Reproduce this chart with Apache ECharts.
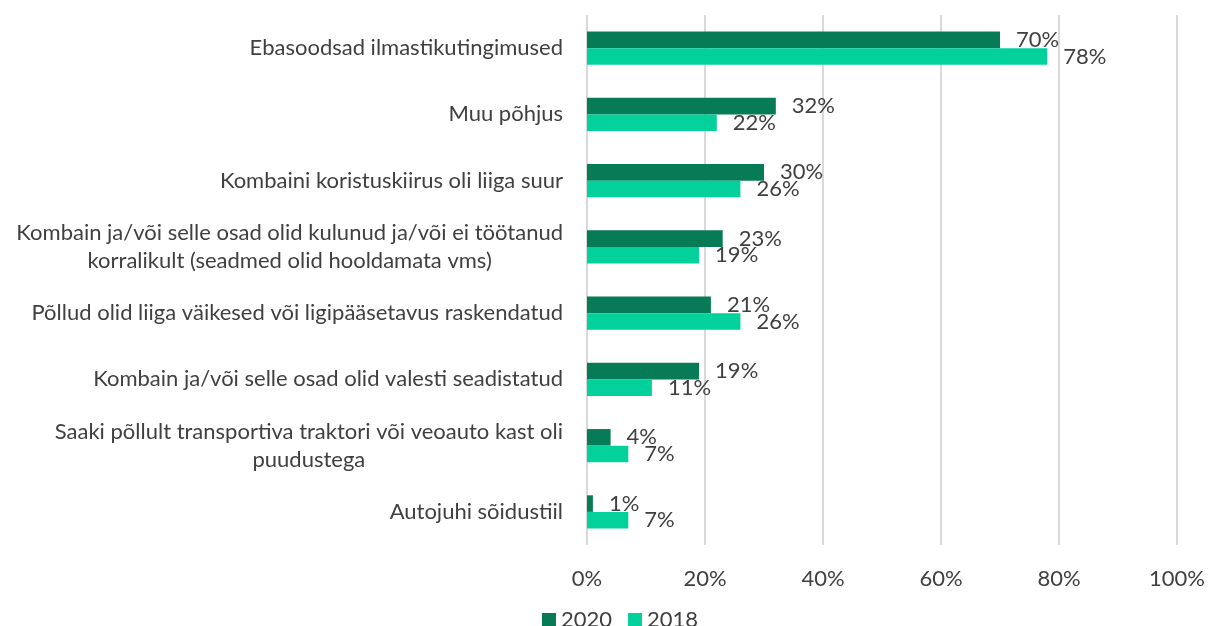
<!DOCTYPE html>
<html>
<head>
<meta charset="utf-8">
<script src="https://cdn.jsdelivr.net/npm/echarts@6/dist/echarts.min.js"></script>
<style>
html,body{margin:0;padding:0;background:#fff;}
#c{width:1208px;height:626px;}
</style>
</head>
<body>
<div id="c"></div>
<script>
const categories = [
  "Ebasoodsad ilmastikutingimused",
  "Muu põhjus",
  "Kombaini koristuskiirus oli liiga suur",
  "Kombain ja/või selle osad olid kulunud ja/või ei töötanud\nkorralikult (seadmed olid hooldamata vms)",
  "Põllud olid liiga väikesed või ligipääsetavus raskendatud",
  "Kombain ja/või selle osad olid valesti seadistatud",
  "Saaki põllult transportiva traktori või veoauto kast oli\npuudustega",
  "Autojuhi sõidustiil"
];
const values2020 = [70, 32, 30, 23, 21, 19, 4, 1];
const values2018 = [78, 22, 26, 19, 26, 11, 7, 7];
const tickValues = [0, 20, 40, 60, 80, 100];

const FONT = 'Lato';
const TXT = '#404040';
const FS = 22;

const chart = echarts.init(document.getElementById('c'));
const labelCfg = {
  show: true,
  position: 'right',
  distance: 16,
  formatter: '{c}%',
  fontFamily: FONT,
  fontSize: FS,
  color: TXT
};
chart.setOption({
  animation: false,
  backgroundColor: '#ffffff',
  textStyle: { fontFamily: FONT },
  grid: { left: 587, right: 28, top: 15, bottom: 81, containLabel: false },
  legend: {
    left: 542, top: 609, padding: 0,
    itemWidth: 14, itemHeight: 14, itemGap: 16,
    icon: 'rect',
    textStyle: { fontFamily: FONT, fontSize: FS, color: TXT },
    data: ['2020', '2018']
  },
  xAxis: {
    type: 'value',
    min: tickValues[0],
    max: tickValues[tickValues.length - 1],
    interval: 20,
    axisLine: { show: false },
    axisTick: { show: false },
    splitLine: { show: true, lineStyle: { color: '#D9D9D9', width: 2 } },
    axisLabel: {
      margin: 23,
      fontFamily: FONT, fontSize: FS, color: TXT,
      formatter: '{value}%'
    }
  },
  yAxis: {
    type: 'category',
    inverse: true,
    data: categories,
    axisLine: { show: false },
    axisTick: { show: false },
    axisLabel: {
      margin: 24,
      align: 'right',
      fontFamily: FONT, fontSize: FS, color: TXT,
      lineHeight: 28,
      formatter: function (v) {
        return v.split('\n').map(function (l) { return '{c|' + l + '}'; }).join('\n');
      },
      rich: {
        c: { align: 'center', fontFamily: FONT, fontSize: FS, color: TXT, lineHeight: 28 }
      }
    }
  },
  series: [
    {
      name: '2020', type: 'bar', data: values2020,
      barGap: '0%', barCategoryGap: '50%',
      itemStyle: { color: '#077B56' },
      label: labelCfg
    },
    {
      name: '2018', type: 'bar', data: values2018,
      barGap: '0%', barCategoryGap: '50%',
      itemStyle: { color: '#03D19C' },
      label: labelCfg
    }
  ]
});
</script>
</body>
</html>
